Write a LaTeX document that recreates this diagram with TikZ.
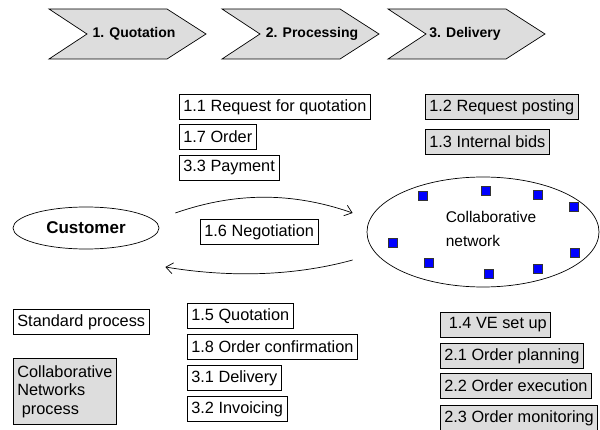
\documentclass[tikz,border=0pt]{standalone}
\usepackage{fontspec}
\setmainfont{Liberation Sans}
\usetikzlibrary{arrows.meta,calc,positioning,shapes.geometric}
\definecolor{lightgrey}{HTML}{DDDDDD}
\definecolor{memberblue}{HTML}{0000FF}

\begin{document}
\begin{tikzpicture}[x=1pt, y=-1pt, line width=0.7pt, >={Straight Barb[length=7pt,width=11pt]},
  stage/.style={draw, fill=lightgrey, line join=miter},
  stage label/.style={inner sep=0pt, font=\fontsize{14}{16}\selectfont\bfseries},
  std box/.style={rectangle, draw, fill=white, anchor=north west, minimum height=25pt,
    inner xsep=4pt, inner ysep=0pt, font=\fontsize{16.3}{19}\selectfont},
  cn box/.style={std box, fill=lightgrey},
  member/.style={rectangle, draw=black!80, fill=memberblue, minimum size=9pt, inner sep=0pt, line width=0.5pt}]

  \useasboundingbox (0,0) rectangle (600,430);

  % phases
  \foreach \l/\t/\name/\txt in {49/134/quot/1. Quotation, 222/312/proc/2. Processing, 388/465/deliv/3. Delivery} {
    \draw[stage] (\l,9) -- ++(118,0) -- ++(39,25) -- ++(-39,25) -- ++(-118,0) -- ++(38,-25) -- cycle;
    \node[stage label] (\name) at (\t,34) {\txt};
  }

  % customer and network
  \node[ellipse, draw, minimum width=146pt, minimum height=42pt,
    font=\fontsize{17}{20}\selectfont\bfseries] (cust) at (86,228) {Customer};
  \node[ellipse, draw, minimum width=232pt, minimum height=110pt] (net) at (483,232) {};
  \node[align=left, inner sep=0pt, font=\fontsize{15.5}{24}\selectfont] (netlbl) at (491,229) {Collaborative\\network};
  \foreach \x/\y [count=\i] in {423/196, 486/191, 538/195, 574/207, 393/243,
                                429/263, 489/274, 538/269, 575/253}
    \node[member] (m\i) at (\x,\y) {};

  \coordinate (a1) at ($(cust.east)+(16,-15)$);
  \coordinate (a2) at ($(net.west)+(-14,-19)$);
  \coordinate (b1) at ($(net.west)+(-14,28)$);
  \coordinate (b2) at ($(cust.east)+(6,39)$);
  \draw[->] (a1) .. controls +(60,-21) and +(-60,-21) .. (a2);
  \draw[->] (b1) .. controls +(-62,17) and +(60,10) .. (b2);

  % customer to network
  \node[std box] (rfq) at (179,94) {1.1 Request for quotation};
  \node[std box] (order) at (179,124) {1.7 Order};
  \node[std box] (pay) at (179,155) {3.3 Payment};
  \node[std box] (nego) at (200,219) {1.6 Negotiation};

  % inside the network
  \node[cn box] (post) at (425,94) {1.2 Request posting};
  \node[cn box] (bids) at (425,129) {1.3 Internal bids};

  % network to customer
  \node[std box] (quote) at (187,303) {1.5 Quotation};
  \node[std box] (conf) at (187,334) {1.8 Order confirmation};
  \node[std box] (dlv) at (187,365) {3.1 Delivery};
  \node[std box] (inv) at (187,396) {3.2 Invoicing};

  \node[cn box] (vesetup) at (440,312) {\ 1.4 VE set up};
  \node[cn box] (plan) at (440,343) {2.1 Order planning};
  \node[cn box] (exec) at (440,373) {2.2 Order execution};
  \node[cn box] (monit) at (440,405) {2.3 Order monitoring};

  % legend
  \node[std box] (leg1) at (13,309) {Standard process};
  \node[cn box, align=left, minimum height=66pt, font=\fontsize{16.3}{18.5}\selectfont] (leg2) at (13,358)
    {Collaborative\\Networks\\\ process};
\end{tikzpicture}
\end{document}
